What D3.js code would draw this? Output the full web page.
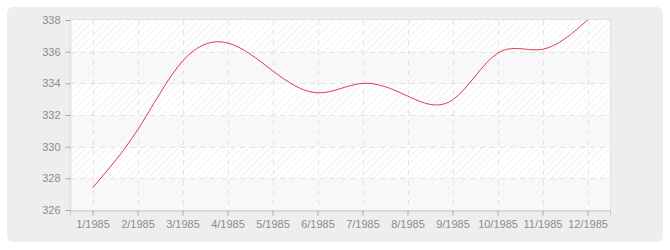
<!DOCTYPE html>
<html>
<head>
<meta charset="utf-8">
<script src="https://cdn.jsdelivr.net/npm/d3@7"></script>
<style>
  body { margin: 0; background: #fff; }
  text { font-family: "Liberation Sans", Arial, sans-serif; font-size: 11px; fill: #8c8c8c; }
</style>
</head>
<body>
<script>
const months = ["1/1985", "2/1985", "3/1985", "4/1985", "5/1985", "6/1985",
                "7/1985", "8/1985", "9/1985", "10/1985", "11/1985", "12/1985"];
const values = [327.4, 331.05, 335.4, 336.55, 334.8, 333.4, 334.0, 333.2, 332.95, 335.9, 336.15, 338.0];
const yTicks = [326, 328, 330, 332, 334, 336, 338];

const w = 670, h = 250;
const padLeft = 70, padRight = 610, padTop = 20, padBottom = 210;

const svg = d3.select("body").append("svg")
  .attr("width", w)
  .attr("height", h);

const defs = svg.append("defs");
const hatch = defs.append("pattern")
  .attr("id", "hatch")
  .attr("patternUnits", "userSpaceOnUse")
  .attr("width", 5).attr("height", 5)
  .attr("patternTransform", "rotate(45)");
hatch.append("rect").attr("width", 5).attr("height", 5).attr("fill", "#ffffff");
hatch.append("line").attr("x1", 0).attr("y1", 0).attr("x2", 0).attr("y2", 5)
  .attr("stroke", "#eeeeee").attr("stroke-width", 1.5);

const hatch2 = defs.append("pattern")
  .attr("id", "hatch2")
  .attr("patternUnits", "userSpaceOnUse")
  .attr("width", 5).attr("height", 5)
  .attr("patternTransform", "rotate(45)");
hatch2.append("rect").attr("width", 5).attr("height", 5).attr("fill", "#f9f9f9");
hatch2.append("line").attr("x1", 0).attr("y1", 0).attr("x2", 0).attr("y2", 5)
  .attr("stroke", "#f3f3f3").attr("stroke-width", 1.5);

// outer box
svg.append("rect")
  .attr("x", 7).attr("y", 7)
  .attr("width", 656).attr("height", 235)
  .attr("rx", 6)
  .attr("fill", "#eeeeee");

const x = d3.scalePoint()
  .domain(months)
  .range([padLeft, padRight])
  .padding(0.5);

const y = d3.scaleLinear()
  .domain([326, 338])
  .range([padBottom, padTop]);

// alternating bands
const bands = yTicks.slice(0, -1);
svg.append("g").selectAll("rect")
  .data(bands)
  .enter()
  .append("rect")
  .attr("x", padLeft)
  .attr("y", d => y(d + 2))
  .attr("width", padRight - padLeft)
  .attr("height", d => y(d) - y(d + 2))
  .attr("fill", (d, i) => i % 2 == 0 ? "url(#hatch2)" : "url(#hatch)");

// plot frame
svg.append("rect")
  .attr("x", padLeft - 0.5).attr("y", padTop - 0.5)
  .attr("width", padRight - padLeft + 1).attr("height", padBottom - padTop + 1)
  .attr("fill", "none")
  .attr("stroke", "#e2e2e2");

// grid
svg.append("g").selectAll("line")
  .data(yTicks.slice(1, -1))
  .enter()
  .append("line")
  .attr("x1", padLeft).attr("x2", padRight)
  .attr("y1", d => Math.round(y(d)) + 0.5)
  .attr("y2", d => Math.round(y(d)) + 0.5)
  .attr("stroke", "#e3e3e3")
  .attr("stroke-dasharray", "5,5");

svg.append("g").selectAll("line")
  .data(months)
  .enter()
  .append("line")
  .attr("x1", d => Math.round(x(d)) + 0.5)
  .attr("x2", d => Math.round(x(d)) + 0.5)
  .attr("y1", padTop).attr("y2", padBottom)
  .attr("stroke", "#e3e3e3")
  .attr("stroke-dasharray", "5,5");

// axes
const xAxis = d3.axisBottom(x).tickSize(5).tickPadding(5);
svg.append("g")
  .attr("transform", "translate(0," + (padBottom + 0.5) + ")")
  .call(xAxis)
  .call(g => g.select(".domain").attr("stroke", "#c8c8c8"))
  .call(g => g.selectAll(".tick line").attr("stroke", "#aaaaaa"))
  .call(g => g.selectAll("text").attr("fill", "#8c8c8c").attr("font-size", 11)
                .attr("font-family", "Liberation Sans, Arial, sans-serif"));

const yAxis = d3.axisLeft(y).tickValues(yTicks).tickSize(5).tickPadding(5);
svg.append("g")
  .attr("transform", "translate(" + (padLeft + 0.5) + ",0)")
  .call(yAxis)
  .call(g => g.select(".domain").attr("stroke", "#dddddd"))
  .call(g => g.selectAll(".tick line").attr("stroke", "#aaaaaa"))
  .call(g => g.selectAll("text").attr("fill", "#8c8c8c").attr("font-size", 11)
                .attr("font-family", "Liberation Sans, Arial, sans-serif"));

// line
const line = d3.line()
  .x((d, i) => x(months[i]))
  .y(d => y(d))
  .curve(d3.curveNatural);

svg.append("path")
  .datum(values)
  .attr("d", line)
  .attr("fill", "none")
  .attr("stroke", "#dc3c4c")
  .attr("stroke-width", 1);
</script>
</body>
</html>
